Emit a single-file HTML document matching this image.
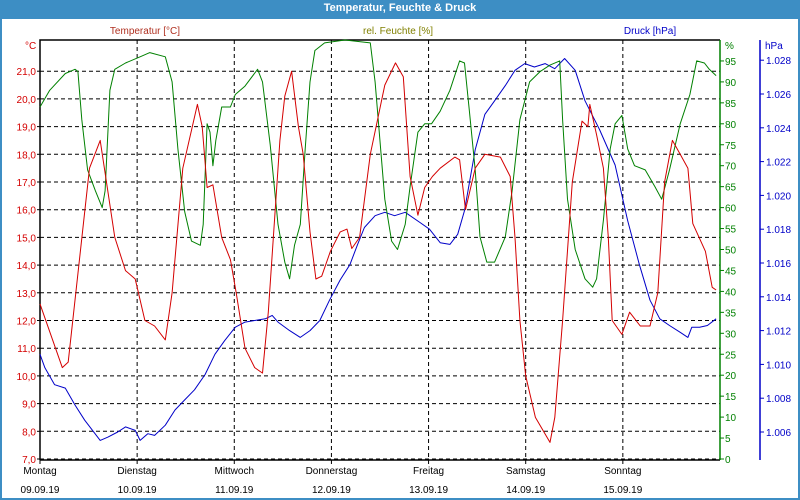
<!DOCTYPE html>
<html><head><meta charset="utf-8"><style>
body{margin:0;width:800px;height:500px;overflow:hidden;background:#fff;font-family:"Liberation Sans",sans-serif}
#win{position:absolute;left:0;top:0;width:796px;height:496px;border:2px solid #3d8ec4;background:#fff}
#title{position:absolute;left:0;top:0;width:800px;height:19px;background:#3d8ec4;color:#fff;font-weight:bold;font-size:11px;text-align:center;line-height:17px}
svg{position:absolute;left:0;top:0}
</style></head><body>
<div id="win"></div>
<div id="title">Temperatur, Feuchte &amp; Druck</div>
<svg id="c" width="800" height="500"></svg>
<script>
const dayNames=["Montag","Dienstag","Mittwoch","Donnerstag","Freitag","Samstag","Sonntag"];
const dates=["09.09.19","10.09.19","11.09.19","12.09.19","13.09.19","14.09.19","15.09.19"];
const tempTicks=[7,8,9,10,11,12,13,14,15,16,17,18,19,20,21];
const humTicks=[0,5,10,15,20,25,30,35,40,45,50,55,60,65,70,75,80,85,90,95];
const presTicks=[1006,1008,1010,1012,1014,1016,1018,1020,1022,1024,1026,1028];
const tempT=[0,.23,.29,.51,.62,.77,.88,.98,1.08,1.18,1.29,1.36,1.47,1.62,1.67,1.72,1.78,1.87,1.96,2.02,2.11,2.21,2.29,2.35,2.47,2.52,2.59,2.66,2.71,2.78,2.84,2.90,2.99,3.09,3.16,3.21,3.29,3.40,3.55,3.66,3.74,3.81,3.89,3.96,4.04,4.12,4.27,4.32,4.38,4.48,4.58,4.74,4.84,4.89,4.94,5.00,5.10,5.25,5.30,5.38,5.48,5.58,5.64,5.66,5.73,5.80,5.85,5.89,5.99,6.07,6.18,6.28,6.36,6.43,6.51,6.59,6.67,6.72,6.85,6.92,6.96];
const tempV=[12.6,10.3,10.5,17.5,18.5,15,13.8,13.5,12,11.8,11.3,13,17.5,19.8,19,16.8,16.9,15,14.2,13,11,10.3,10.1,12.3,18.5,20.1,21,19,18,15.2,13.5,13.6,14.5,15.2,15.3,14.6,15,18,20.5,21.3,20.8,17.2,15.8,16.8,17.2,17.5,17.9,17.8,16,17.5,18,17.9,17.2,15,12,10,8.5,7.6,8.5,12,17,19.2,19,19.8,18.7,17.5,15,12,11.5,12.3,11.8,11.8,13,17,18.5,18,17.5,15.5,14.5,13.2,13.1];
const humT=[0,.10,.26,.36,.39,.43,.49,.57,.64,.67,.72,.77,.88,1.03,1.13,1.29,1.36,1.42,1.49,1.56,1.65,1.68,1.72,1.75,1.78,1.81,1.87,1.96,2.01,2.11,2.24,2.29,2.37,2.45,2.52,2.57,2.62,2.68,2.73,2.78,2.83,2.93,3.14,3.40,3.45,3.55,3.62,3.68,3.76,3.81,3.89,3.96,4.03,4.12,4.22,4.32,4.37,4.42,4.48,4.53,4.60,4.68,4.79,4.86,4.94,5.04,5.15,5.25,5.35,5.38,5.43,5.51,5.61,5.69,5.73,5.80,5.87,5.92,5.99,6.05,6.12,6.23,6.33,6.40,6.48,6.59,6.69,6.76,6.84,6.89,6.96];
const humV=[84,88,92,93,92.5,81,69,64,60,64,88,93,94.5,96,97,96,90,74,59,52,51,56,80,78,70,76,84,84,87,89,93,90,75,56,47,43,51,56,74,90,97.5,99.3,100,99.3,90,62,52,50,56,65,78,80,80,83,88,95,94.5,83,69,53,47,47,53,64,81,90,92.5,94,95,81,62,50,43,41,43,57,74,80,82,74,70,69,65,62,69,80,87,95,94.5,93,91.5];
const presT=[0,.05,.15,.26,.36,.46,.62,.70,.80,.88,.98,1.03,1.11,1.18,1.29,1.39,1.49,1.59,1.70,1.80,1.90,2.01,2.11,2.21,2.32,2.39,2.45,2.57,2.68,2.78,2.88,2.98,3.09,3.19,3.27,3.34,3.45,3.55,3.65,3.76,3.91,4.01,4.12,4.22,4.30,4.37,4.48,4.58,4.68,4.79,4.89,4.99,5.09,5.20,5.30,5.40,5.51,5.61,5.76,5.92,6.05,6.17,6.28,6.38,6.48,6.59,6.67,6.71,6.79,6.87,6.96];
const presV=[1010.6,1009.8,1008.8,1008.6,1007.6,1006.7,1005.5,1005.7,1006.0,1006.3,1006.1,1005.5,1005.9,1005.8,1006.4,1007.3,1007.9,1008.5,1009.4,1010.6,1011.4,1012.2,1012.5,1012.6,1012.7,1012.9,1012.5,1012.0,1011.6,1012.0,1012.6,1013.8,1015.0,1015.9,1017.1,1018.1,1018.8,1019.0,1018.8,1019.0,1018.4,1018.0,1017.2,1017.1,1017.7,1019.1,1022.7,1024.8,1025.6,1026.5,1027.4,1027.8,1027.6,1027.8,1027.5,1028.1,1027.4,1025.6,1023.9,1021.8,1018.5,1015.9,1013.8,1012.7,1012.3,1011.9,1011.6,1012.2,1012.2,1012.3,1012.7];

const L=40,R=720,T=40,B=460;
const xS=d=>L+d*97.14;
const yT=v=>459-(v-7)*27.7;
const yH=v=>459-v*4.19;
const yP=v=>432-(v-1006)*16.9;
const svg=document.getElementById('c');
const NS='http://www.w3.org/2000/svg';
function mk(tag,a){const e=document.createElementNS(NS,tag);for(const k in a)e.setAttribute(k,a[k]);svg.appendChild(e);return e;}
function txt(x,y,s,col,anchor){const e=mk('text',{x:x,y:y,fill:col,'font-size':'10','text-anchor':anchor||'start','font-family':'Liberation Sans, sans-serif'});e.textContent=s;return e;}

tempTicks.forEach(v=>{
  const y=yT(v);
  const g=mk('line',{x1:L,x2:R,y1:y,y2:y,stroke:'#000','stroke-dasharray':'4,3'});
  
  
  const t=txt(36,y+4,v.toFixed(1).replace('.',','),'#d40000','end');
  
  
  mk('line',{x1:L-3,x2:L,y1:y,y2:y,stroke:'#000'});
});
dayNames.forEach((n,i)=>{
  const x=xS(i);
  if(i>0){const g=mk('line',{x1:x,x2:x,y1:T,y2:B,stroke:'#000','stroke-dasharray':'4,3'});
    
    }
  mk('line',{x1:x,x2:x,y1:B,y2:B+4,stroke:'#000'});
  const a=txt(x,474,n,'#000','middle');
  
  
  const b=txt(x,493,dates[i],'#000','middle');
  
  
});
const fr=mk('path',{d:`M${L},${B}V${T}H${R}M${L},${B}H${R}`,stroke:'#000',fill:'none','stroke-width':1.5});


const ga=mk('line',{x1:R,x2:R,y1:T,y2:B,stroke:'#008000','stroke-width':1.5});


humTicks.forEach(v=>{const y=yH(v);mk('line',{x1:R,x2:R+4,y1:y,y2:y,stroke:'#008000'});
  const t=txt(725,y+4,String(v),'#008000');
  
  });
const pa=mk('line',{x1:760,x2:760,y1:T,y2:B,stroke:'#0000c8','stroke-width':1.5});


presTicks.forEach(v=>{const y=yP(v);mk('line',{x1:760,x2:764,y1:y,y2:y,stroke:'#0000c8'});
  const t=txt(766,y+4,(v/1000).toFixed(3),'#0000c8');
  
  });
[[25,49,'°C','#d40000','temp-unit'],[725,49,'%','#008000','humidity-unit'],[765,49,'hPa','#0000c8','pressure-unit'],
 [145,34,'Temperatur [°C]','#b03020','temp-legend'],[398,34,'rel. Feuchte [%]','#808000','humidity-legend'],[650,34,'Druck [hPa]','#0000c8','pressure-legend']].forEach(a=>{
  const t=txt(a[0],a[1],a[2],a[3],a[4].endsWith('legend')?'middle':'start');
  
  
});
function line(ts,vs,ys,col,name){
  const d=ts.map((t,i)=>(i?'L':'M')+xS(t).toFixed(1)+','+ys(vs[i]).toFixed(1)).join('');
  const p=mk('path',{d:d,stroke:col,fill:'none','stroke-width':1,'stroke-linejoin':'round'});
  
  
}
line(presT,presV,yP,'#0000c8','pressure-line');
line(humT,humV,yH,'#008000','humidity-line');
line(tempT,tempV,yT,'#d40000','temperature-line');
</script>
</body></html>
